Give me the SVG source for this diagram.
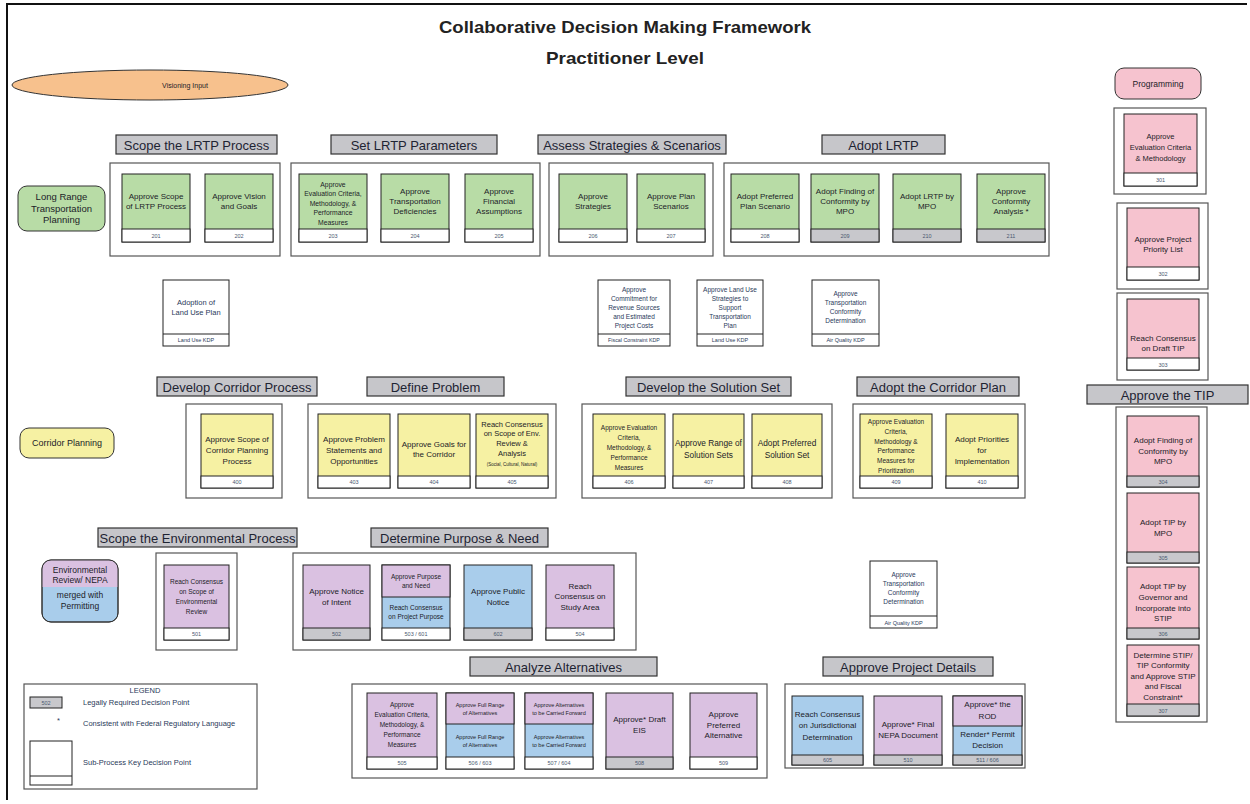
<svg xmlns="http://www.w3.org/2000/svg" width="1250" height="804" viewBox="0 0 1250 804">
<style>
.h rect{fill:#c6c6ca;stroke:#333;stroke-width:1.2}
.h text{font-family:"Liberation Sans",Arial,sans-serif;font-size:13px;fill:#1e2433;text-anchor:middle}
.c{fill:#fff;stroke:#555;stroke-width:1.2}
.n{stroke:#222;stroke-width:1}
.g{fill:#b8dca6}.y{fill:#f6f1a3}.p{fill:#f6c3cf}.v{fill:#dac1e1}.b{fill:#a9cdeb}.w{fill:#fff}.s{fill:#c8c8cc}.o{fill:#f7c18d}
.t{font-family:"Liberation Sans",Arial,sans-serif;fill:#1c1c28;text-anchor:middle}
.num{font-size:5.5px;fill:#4a5870}
.k{fill:#2a3a5a}
.ttl{font-family:"Liberation Sans",Arial,sans-serif;font-weight:bold;font-size:17px;fill:#222;text-anchor:middle}
.lg{font-family:"Liberation Sans",Arial,sans-serif;font-size:7.5px;fill:#2a3a5a}
</style>
<rect x="0" y="0" width="1250" height="804" fill="#fff"/>
<path d="M7,800 V4 H1247" fill="none" stroke="#111" stroke-width="2"/>
<g id="title">
<text class="ttl" x="625" y="33" textLength="372" lengthAdjust="spacingAndGlyphs">Collaborative Decision Making Framework</text>
<text class="ttl" x="625" y="64" textLength="158" lengthAdjust="spacingAndGlyphs">Practitioner Level</text>
</g>
<g id="connectors"></g>
<g id="visioning"><ellipse class="o" cx="150" cy="85" rx="138" ry="15" stroke="#333" stroke-width="1"/><text class="t" font-size="7" x="185" y="87.5">Visioning Input</text></g>
<g id="programming"><rect class="p" x="1115" y="68" width="86" height="31" rx="9" stroke="#333" stroke-width="1"/><text class="t" font-size="8.5" x="1158" y="86.5">Programming</text></g>
<g id="lrtp-label"><rect class="g" x="18" y="186" width="87" height="45" rx="9" stroke="#333" stroke-width="1"/><text class="t" font-size="9.5"><tspan x="61.5" y="200">Long Range</tspan><tspan x="61.5" y="212">Transportation</tspan><tspan x="61.5" y="222.5">Planning</tspan></text></g>
<g id="corridor-label"><rect class="y" x="20" y="428" width="94" height="30" rx="9" stroke="#333" stroke-width="1"/><text class="t" font-size="9" x="67" y="446">Corridor Planning</text></g>
<g id="env-label"><rect class="b" x="42" y="560" width="76" height="62" rx="9" stroke="#333" stroke-width="1"/><path class="v" d="M42,587 V569 a9,9 0 0 1 9,-9 H109 a9,9 0 0 1 9,9 V587 Z"/><rect x="42" y="560" width="76" height="62" rx="9" fill="none" stroke="#333" stroke-width="1"/><text class="t" font-size="8.5"><tspan x="80" y="573">Environmental</tspan><tspan x="80" y="583">Review/ NEPA</tspan><tspan x="80" y="598">merged with</tspan><tspan x="80" y="608.5">Permitting</tspan></text></g>

<!-- Headers -->
<g id="h-scope-lrtp" class="h"><rect x="116" y="135" width="161" height="19"/><text x="196.5" y="149.5">Scope the LRTP Process</text></g>
<g id="h-set-lrtp" class="h"><rect x="331" y="135" width="166" height="19"/><text x="414" y="149.5">Set LRTP Parameters</text></g>
<g id="h-assess" class="h"><rect x="538" y="135" width="188" height="19"/><text x="632" y="149.5">Assess Strategies &amp; Scenarios</text></g>
<g id="h-adopt-lrtp" class="h"><rect x="822" y="135" width="123" height="19"/><text x="883.5" y="149.5">Adopt LRTP</text></g>
<g id="h-dev-corr" class="h"><rect x="157" y="377" width="160" height="19"/><text x="237" y="391.5">Develop Corridor Process</text></g>
<g id="h-def-prob" class="h"><rect x="367" y="377" width="137" height="19"/><text x="435.5" y="391.5">Define Problem</text></g>
<g id="h-dev-sol" class="h"><rect x="626" y="377" width="165" height="19"/><text x="708.5" y="391.5">Develop the Solution Set</text></g>
<g id="h-adopt-corr" class="h"><rect x="857" y="377" width="162" height="19"/><text x="938" y="391.5">Adopt the Corridor Plan</text></g>
<g id="h-scope-env" class="h"><rect x="98" y="528" width="199" height="19"/><text x="197.5" y="542.5">Scope the Environmental Process</text></g>
<g id="h-purpose" class="h"><rect x="371" y="528" width="177" height="19"/><text x="459.5" y="542.5">Determine Purpose &amp; Need</text></g>
<g id="h-analyze" class="h"><rect x="470" y="657" width="187" height="19"/><text x="563.5" y="671.5">Analyze Alternatives</text></g>
<g id="h-details" class="h"><rect x="823" y="657" width="170" height="19"/><text x="908" y="671.5">Approve Project Details</text></g>
<g id="h-tip" class="h"><rect x="1087" y="385" width="161" height="19"/><text x="1167.5" y="399.5">Approve the TIP</text></g>

<!-- Containers -->
<g id="containers">
<rect class="c" x="110" y="163" width="170" height="93"/>
<rect class="c" x="291" y="163" width="249" height="93"/>
<rect class="c" x="549" y="163" width="164" height="93"/>
<rect class="c" x="724" y="163" width="325" height="93"/>
<rect class="c" x="186" y="404" width="96" height="94"/>
<rect class="c" x="308" y="404" width="248" height="94"/>
<rect class="c" x="582" y="404" width="250" height="94"/>
<rect class="c" x="853" y="404" width="172" height="94"/>
<rect class="c" x="156" y="553" width="81" height="97"/>
<rect class="c" x="293" y="553" width="343" height="97"/>
<rect class="c" x="352" y="684" width="415" height="94"/>
<rect class="c" x="785" y="684" width="240" height="84"/>
<rect class="c" x="1114" y="108" width="92" height="86"/>
<rect class="c" x="1117" y="203" width="91" height="86"/>
<rect class="c" x="1117" y="293" width="91" height="87"/>
<rect class="c" x="1116" y="407" width="91" height="315"/>
</g>

<!-- LRTP nodes -->
<g id="n201"><rect class="n g" x="122" y="174" width="68" height="68"/><rect class="n w" x="122" y="229" width="68" height="13"/><text class="t" font-size="8"><tspan x="156" y="199.3">Approve Scope</tspan><tspan x="156" y="209.3">of LRTP Process</tspan></text><text class="t num" x="156" y="237.5">201</text></g>
<g id="n202"><rect class="n g" x="205" y="174" width="68" height="68"/><rect class="n w" x="205" y="229" width="68" height="13"/><text class="t" font-size="8"><tspan x="239" y="199.3">Approve Vision</tspan><tspan x="239" y="209.3">and Goals</tspan></text><text class="t num" x="239" y="237.5">202</text></g>
<g id="n203"><rect class="n g" x="299" y="174" width="68" height="68"/><rect class="n w" x="299" y="229" width="68" height="13"/><text class="t" font-size="6.8"><tspan x="333" y="186.5">Approve</tspan><tspan x="333" y="196">Evaluation Criteria,</tspan><tspan x="333" y="205.6">Methodology, &amp;</tspan><tspan x="333" y="215.2">Performance</tspan><tspan x="333" y="225">Measures</tspan></text><text class="t num" x="333" y="237.5">203</text></g>
<g id="n204"><rect class="n g" x="381" y="174" width="68" height="68"/><rect class="n w" x="381" y="229" width="68" height="13"/><text class="t" font-size="8"><tspan x="415" y="194.3">Approve</tspan><tspan x="415" y="204.3">Transportation</tspan><tspan x="415" y="214.3">Deficiencies</tspan></text><text class="t num" x="415" y="237.5">204</text></g>
<g id="n205"><rect class="n g" x="465" y="174" width="68" height="68"/><rect class="n w" x="465" y="229" width="68" height="13"/><text class="t" font-size="8"><tspan x="499" y="194.3">Approve</tspan><tspan x="499" y="204.3">Financial</tspan><tspan x="499" y="214.3">Assumptions</tspan></text><text class="t num" x="499" y="237.5">205</text></g>
<g id="n206"><rect class="n g" x="559" y="174" width="68" height="68"/><rect class="n w" x="559" y="229" width="68" height="13"/><text class="t" font-size="8"><tspan x="593" y="199.3">Approve</tspan><tspan x="593" y="209.3">Strategies</tspan></text><text class="t num" x="593" y="237.5">206</text></g>
<g id="n207"><rect class="n g" x="637" y="174" width="68" height="68"/><rect class="n w" x="637" y="229" width="68" height="13"/><text class="t" font-size="8"><tspan x="671" y="199.3">Approve Plan</tspan><tspan x="671" y="209.3">Scenarios</tspan></text><text class="t num" x="671" y="237.5">207</text></g>
<g id="n208"><rect class="n g" x="731" y="174" width="68" height="68"/><rect class="n w" x="731" y="229" width="68" height="13"/><text class="t" font-size="8"><tspan x="765" y="199.3">Adopt Preferred</tspan><tspan x="765" y="209.3">Plan Scenario</tspan></text><text class="t num" x="765" y="237.5">208</text></g>
<g id="n209"><rect class="n g" x="811" y="174" width="68" height="68"/><rect class="n s" x="811" y="229" width="68" height="13"/><text class="t" font-size="8"><tspan x="845" y="194.3">Adopt Finding of</tspan><tspan x="845" y="204.3">Conformity by</tspan><tspan x="845" y="214.3">MPO</tspan></text><text class="t num" x="845" y="237.5">209</text></g>
<g id="n210"><rect class="n g" x="893" y="174" width="68" height="68"/><rect class="n s" x="893" y="229" width="68" height="13"/><text class="t" font-size="8"><tspan x="927" y="199.3">Adopt LRTP by</tspan><tspan x="927" y="209.3">MPO</tspan></text><text class="t num" x="927" y="237.5">210</text></g>
<g id="n211"><rect class="n g" x="977" y="174" width="68" height="68"/><rect class="n s" x="977" y="229" width="68" height="13"/><text class="t" font-size="8"><tspan x="1011" y="194.3">Approve</tspan><tspan x="1011" y="204.3">Conformity</tspan><tspan x="1011" y="214.3">Analysis *</tspan></text><text class="t num" x="1011" y="237.5">211</text></g>

<!-- KDP boxes -->
<g id="kdp-landuse1"><rect class="n w" x="163" y="280" width="66" height="66"/><line x1="163" y1="334" x2="229" y2="334" stroke="#222"/><text class="t k" font-size="7.5"><tspan x="196" y="305.1">Adoption of</tspan><tspan x="196" y="315.1">Land Use Plan</tspan></text><text class="t k" font-size="5.5" x="196" y="342">Land Use KDP</text></g>
<g id="kdp-fiscal"><rect class="n w" x="598" y="280" width="72" height="66"/><line x1="598" y1="334" x2="670" y2="334" stroke="#222"/><text class="t k" font-size="6.5"><tspan x="634" y="291.8">Approve</tspan><tspan x="634" y="300.8">Commitment for</tspan><tspan x="634" y="309.8">Revenue Sources</tspan><tspan x="634" y="318.8">and Estimated</tspan><tspan x="634" y="327.8">Project Costs</tspan></text><text class="t k" font-size="5.3" x="634" y="342">Fiscal Constraint KDP</text></g>
<g id="kdp-landuse2"><rect class="n w" x="697" y="280" width="66" height="66"/><line x1="697" y1="334" x2="763" y2="334" stroke="#222"/><text class="t k" font-size="6.5"><tspan x="730" y="291.8">Approve Land Use</tspan><tspan x="730" y="300.8">Strategies to</tspan><tspan x="730" y="309.8">Support</tspan><tspan x="730" y="318.8">Transportation</tspan><tspan x="730" y="327.8">Plan</tspan></text><text class="t k" font-size="5.5" x="730" y="342">Land Use KDP</text></g>
<g id="kdp-aq1"><rect class="n w" x="812" y="280" width="67" height="66"/><line x1="812" y1="334" x2="879" y2="334" stroke="#222"/><text class="t k" font-size="6.5"><tspan x="845.5" y="296.3">Approve</tspan><tspan x="845.5" y="305.3">Transportation</tspan><tspan x="845.5" y="314.3">Conformity</tspan><tspan x="845.5" y="323.3">Determination</tspan></text><text class="t k" font-size="5.5" x="845.5" y="342">Air Quality KDP</text></g>
<g id="kdp-aq2"><rect class="n w" x="870" y="561" width="67" height="67"/><line x1="870" y1="616" x2="937" y2="616" stroke="#222"/><text class="t k" font-size="6.5"><tspan x="903.5" y="577.3">Approve</tspan><tspan x="903.5" y="586.3">Transportation</tspan><tspan x="903.5" y="595.3">Conformity</tspan><tspan x="903.5" y="604.3">Determination</tspan></text><text class="t k" font-size="5.5" x="903.5" y="624.5">Air Quality KDP</text></g>

<!-- Corridor nodes -->
<g id="n400"><rect class="n y" x="201" y="414" width="72" height="74"/><rect class="n w" x="201" y="476" width="72" height="12"/><text class="t" font-size="8"><tspan x="237" y="442">Approve Scope of</tspan><tspan x="237" y="453">Corridor Planning</tspan><tspan x="237" y="464">Process</tspan></text><text class="t num" x="237" y="484">400</text></g>
<g id="n403"><rect class="n y" x="318" y="414" width="72" height="74"/><rect class="n w" x="318" y="476" width="72" height="12"/><text class="t" font-size="8"><tspan x="354" y="442">Approve Problem</tspan><tspan x="354" y="453">Statements and</tspan><tspan x="354" y="464">Opportunities</tspan></text><text class="t num" x="354" y="484">403</text></g>
<g id="n404"><rect class="n y" x="398" y="414" width="72" height="74"/><rect class="n w" x="398" y="476" width="72" height="12"/><text class="t" font-size="8"><tspan x="434" y="446.5">Approve Goals for</tspan><tspan x="434" y="456.5">the Corridor</tspan></text><text class="t num" x="434" y="484">404</text></g>
<g id="n405"><rect class="n y" x="476" y="414" width="72" height="74"/><rect class="n w" x="476" y="476" width="72" height="12"/><text class="t" font-size="7.5"><tspan x="512" y="426.5">Reach Consensus</tspan><tspan x="512" y="436">on Scope of Env.</tspan><tspan x="512" y="446">Review &amp;</tspan><tspan x="512" y="455.5">Analysis</tspan></text><text class="t" font-size="4.5" x="512" y="466">(Social, Cultural, Natural)</text><text class="t num" x="512" y="484">405</text></g>
<g id="n406"><rect class="n y" x="593" y="414" width="72" height="74"/><rect class="n w" x="593" y="476" width="72" height="12"/><text class="t" font-size="6.5"><tspan x="629" y="429.5">Approve Evaluation</tspan><tspan x="629" y="439.5">Criteria,</tspan><tspan x="629" y="449.5">Methodology,  &amp;</tspan><tspan x="629" y="459.5">Performance</tspan><tspan x="629" y="469.5">Measures</tspan></text><text class="t num" x="629" y="484">406</text></g>
<g id="n407"><rect class="n y" x="673" y="414" width="71" height="74"/><rect class="n w" x="673" y="476" width="71" height="12"/><text class="t" font-size="8.3"><tspan x="708.5" y="446">Approve Range of</tspan><tspan x="708.5" y="457.5">Solution Sets</tspan></text><text class="t num" x="708.5" y="484">407</text></g>
<g id="n408"><rect class="n y" x="752" y="414" width="70" height="74"/><rect class="n w" x="752" y="476" width="70" height="12"/><text class="t" font-size="8.3"><tspan x="787" y="446">Adopt Preferred</tspan><tspan x="787" y="457.5">Solution Set</tspan></text><text class="t num" x="787" y="484">408</text></g>
<g id="n409"><rect class="n y" x="860" y="414" width="72" height="74"/><rect class="n w" x="860" y="476" width="72" height="12"/><text class="t" font-size="6.5"><tspan x="896" y="424">Approve Evaluation</tspan><tspan x="896" y="434">Criteria,</tspan><tspan x="896" y="443.5">Methodology &amp;</tspan><tspan x="896" y="453">Performance</tspan><tspan x="896" y="463">Measures for</tspan><tspan x="896" y="473">Prioritization</tspan></text><text class="t num" x="896" y="484">409</text></g>
<g id="n410"><rect class="n y" x="946" y="414" width="72" height="74"/><rect class="n w" x="946" y="476" width="72" height="12"/><text class="t" font-size="8"><tspan x="982" y="442">Adopt Priorities</tspan><tspan x="982" y="453">for</tspan><tspan x="982" y="463.5">Implementation</tspan></text><text class="t num" x="982" y="484">410</text></g>

<!-- Env nodes -->
<g id="n501"><rect class="n v" x="164" y="565" width="65" height="75"/><rect class="n w" x="164" y="628" width="65" height="12"/><text class="t" font-size="6.5"><tspan x="196.5" y="583.8">Reach Consensus</tspan><tspan x="196.5" y="593.8">on Scope of</tspan><tspan x="196.5" y="603.8">Environmental</tspan><tspan x="196.5" y="613.8">Review</tspan></text><text class="t num" x="196.5" y="636">501</text></g>
<g id="n502"><rect class="n v" x="303" y="565" width="67" height="75"/><rect class="n s" x="303" y="628" width="67" height="12"/><text class="t" font-size="8"><tspan x="336.5" y="593.8">Approve Notice</tspan><tspan x="336.5" y="604.8">of Intent</tspan></text><text class="t num" x="336.5" y="636">502</text></g>
<g id="n503-601"><rect class="n b" x="382" y="565" width="68" height="75"/><rect class="n v" x="382" y="565" width="68" height="32"/><rect class="n w" x="382" y="628" width="68" height="12"/><text class="t" font-size="6.5"><tspan x="416" y="578.8">Approve Purpose</tspan><tspan x="416" y="587.8">and Need</tspan><tspan x="416" y="610.3">Reach Consensus</tspan><tspan x="416" y="619.3">on Project Purpose</tspan></text><text class="t num" x="416" y="636">503 / 601</text></g>
<g id="n602"><rect class="n b" x="464" y="565" width="68" height="75"/><rect class="n s" x="464" y="628" width="68" height="12"/><text class="t" font-size="8"><tspan x="498" y="593.8">Approve Public</tspan><tspan x="498" y="604.8">Notice</tspan></text><text class="t num" x="498" y="636">602</text></g>
<g id="n504"><rect class="n v" x="546" y="565" width="68" height="75"/><rect class="n w" x="546" y="628" width="68" height="12"/><text class="t" font-size="8"><tspan x="580" y="588.8">Reach</tspan><tspan x="580" y="599.3">Consensus on</tspan><tspan x="580" y="609.8">Study Area</tspan></text><text class="t num" x="580" y="636">504</text></g>

<!-- Analyze Alternatives nodes -->
<g id="n505"><rect class="n v" x="367" y="693" width="70" height="76"/><rect class="n w" x="367" y="757" width="70" height="12"/><text class="t" font-size="6.5"><tspan x="402" y="707.3">Approve</tspan><tspan x="402" y="717.3">Evaluation Criteria,</tspan><tspan x="402" y="727.3">Methodology, &amp;</tspan><tspan x="402" y="737.3">Performance</tspan><tspan x="402" y="747.3">Measures</tspan></text><text class="t num" x="402" y="765">505</text></g>
<g id="n506-603"><rect class="n b" x="446" y="693" width="68" height="76"/><rect class="n v" x="446" y="693" width="68" height="31"/><rect class="n w" x="446" y="757" width="68" height="12"/><text class="t" font-size="5.5"><tspan x="480" y="706.5">Approve Full Range</tspan><tspan x="480" y="714.5">of Alternatives</tspan><tspan x="480" y="738.5">Approve Full Range</tspan><tspan x="480" y="746.5">of Alternatives</tspan></text><text class="t num" x="480" y="765">506 / 603</text></g>
<g id="n507-604"><rect class="n b" x="525" y="693" width="68" height="76"/><rect class="n v" x="525" y="693" width="68" height="31"/><rect class="n w" x="525" y="757" width="68" height="12"/><text class="t" font-size="5.5"><tspan x="559" y="706.5">Approve Alternatives</tspan><tspan x="559" y="714.5">to be Carried Forward</tspan><tspan x="559" y="738.5">Approve Alternatives</tspan><tspan x="559" y="746.5">to be Carried Forward</tspan></text><text class="t num" x="559" y="765">507 / 604</text></g>
<g id="n508"><rect class="n v" x="606" y="693" width="67" height="76"/><rect class="n s" x="606" y="757" width="67" height="12"/><text class="t" font-size="8"><tspan x="639.5" y="722.3">Approve* Draft</tspan><tspan x="639.5" y="733.3">EIS</tspan></text><text class="t num" x="639.5" y="765">508</text></g>
<g id="n509"><rect class="n v" x="690" y="693" width="67" height="76"/><rect class="n w" x="690" y="757" width="67" height="12"/><text class="t" font-size="8"><tspan x="723.5" y="717.3">Approve</tspan><tspan x="723.5" y="727.8">Preferred</tspan><tspan x="723.5" y="738.3">Alternative</tspan></text><text class="t num" x="723.5" y="765">509</text></g>

<!-- Project Details nodes -->
<g id="n605"><rect class="n b" x="792" y="696" width="71" height="69"/><rect class="n s" x="792" y="755" width="71" height="10"/><text class="t" font-size="8"><tspan x="827.5" y="716.8">Reach Consensus</tspan><tspan x="827.5" y="728.3">on Jurisdictional</tspan><tspan x="827.5" y="739.8">Determination</tspan></text><text class="t num" x="827.5" y="762">605</text></g>
<g id="n510"><rect class="n v" x="874" y="696" width="68" height="69"/><rect class="n s" x="874" y="755" width="68" height="10"/><text class="t" font-size="8"><tspan x="908" y="726.8">Approve* Final</tspan><tspan x="908" y="737.8">NEPA Document</tspan></text><text class="t num" x="908" y="762">510</text></g>
<g id="n511-606"><rect class="n b" x="953" y="696" width="69" height="69"/><rect class="n v" x="953" y="696" width="69" height="30"/><rect class="n s" x="953" y="755" width="69" height="10"/><text class="t" font-size="8"><tspan x="987.5" y="707">Approve* the</tspan><tspan x="987.5" y="718.5">ROD</tspan><tspan x="987.5" y="737">Render* Permit</tspan><tspan x="987.5" y="747.8">Decision</tspan></text><text class="t num" x="987.5" y="762">511 / 606</text></g>

<!-- Programming nodes -->
<g id="n301"><rect class="n p" x="1124" y="114" width="73" height="72"/><rect class="n w" x="1124" y="173" width="73" height="13"/><text class="t" font-size="7.5"><tspan x="1160.5" y="139">Approve</tspan><tspan x="1160.5" y="150">Evaluation Criteria</tspan><tspan x="1160.5" y="161">&amp; Methodology</tspan></text><text class="t num" x="1160.5" y="182">301</text></g>
<g id="n302"><rect class="n p" x="1127" y="208" width="72" height="72"/><rect class="n w" x="1127" y="267" width="72" height="13"/><text class="t" font-size="8"><tspan x="1163" y="241.5">Approve Project</tspan><tspan x="1163" y="251.5">Priority List</tspan></text><text class="t num" x="1163" y="276">302</text></g>
<g id="n303"><rect class="n p" x="1127" y="299" width="72" height="71"/><rect class="n w" x="1127" y="358" width="72" height="12"/><text class="t" font-size="8"><tspan x="1163" y="340.5">Reach Consensus</tspan><tspan x="1163" y="350.5">on Draft TIP</tspan></text><text class="t num" x="1163" y="367">303</text></g>
<g id="n304"><rect class="n p" x="1127" y="416" width="72" height="71"/><rect class="n s" x="1127" y="476" width="72" height="11"/><text class="t" font-size="8"><tspan x="1163" y="442.5">Adopt Finding of</tspan><tspan x="1163" y="453.5">Conformity by</tspan><tspan x="1163" y="464">MPO</tspan></text><text class="t num" x="1163" y="484">304</text></g>
<g id="n305"><rect class="n p" x="1127" y="493" width="72" height="70"/><rect class="n s" x="1127" y="552" width="72" height="11"/><text class="t" font-size="8"><tspan x="1163" y="525">Adopt TIP by</tspan><tspan x="1163" y="536">MPO</tspan></text><text class="t num" x="1163" y="560">305</text></g>
<g id="n306"><rect class="n p" x="1127" y="567" width="72" height="72"/><rect class="n s" x="1127" y="628" width="72" height="11"/><text class="t" font-size="8"><tspan x="1163" y="589">Adopt TIP by</tspan><tspan x="1163" y="600">Governor and</tspan><tspan x="1163" y="611">Incorporate into</tspan><tspan x="1163" y="621">STIP</tspan></text><text class="t num" x="1163" y="636">306</text></g>
<g id="n307"><rect class="n p" x="1127" y="645" width="72" height="71"/><rect class="n s" x="1127" y="704" width="72" height="12"/><text class="t" font-size="8"><tspan x="1163" y="657.5">Determine STIP/</tspan><tspan x="1163" y="668">TIP Conformity</tspan><tspan x="1163" y="678.5">and Approve STIP</tspan><tspan x="1163" y="689">and Fiscal</tspan><tspan x="1163" y="699.5">Constraint*</tspan></text><text class="t num" x="1163" y="712.5">307</text></g>

<!-- Legend -->
<g id="legend">
<rect x="24" y="684" width="233" height="105" fill="#fff" stroke="#555" stroke-width="1.2"/>
<text class="lg" x="145" y="693" text-anchor="middle">LEGEND</text>
<rect class="s" x="30" y="697" width="32" height="11" stroke="#222" stroke-width="1"/>
<text class="t num" x="46" y="704.5">502</text>
<text class="lg" x="83" y="705">Legally Required Decision Point</text>
<text class="lg" x="57" y="723">*</text>
<text class="lg" x="83" y="726">Consistent with Federal Regulatory Language</text>
<rect x="30" y="741" width="42" height="44" fill="#fff" stroke="#222" stroke-width="1"/>
<line x1="30" y1="776" x2="72" y2="776" stroke="#222"/>
<text class="lg" x="83" y="765">Sub-Process Key Decision Point</text>
</g>
</svg>
